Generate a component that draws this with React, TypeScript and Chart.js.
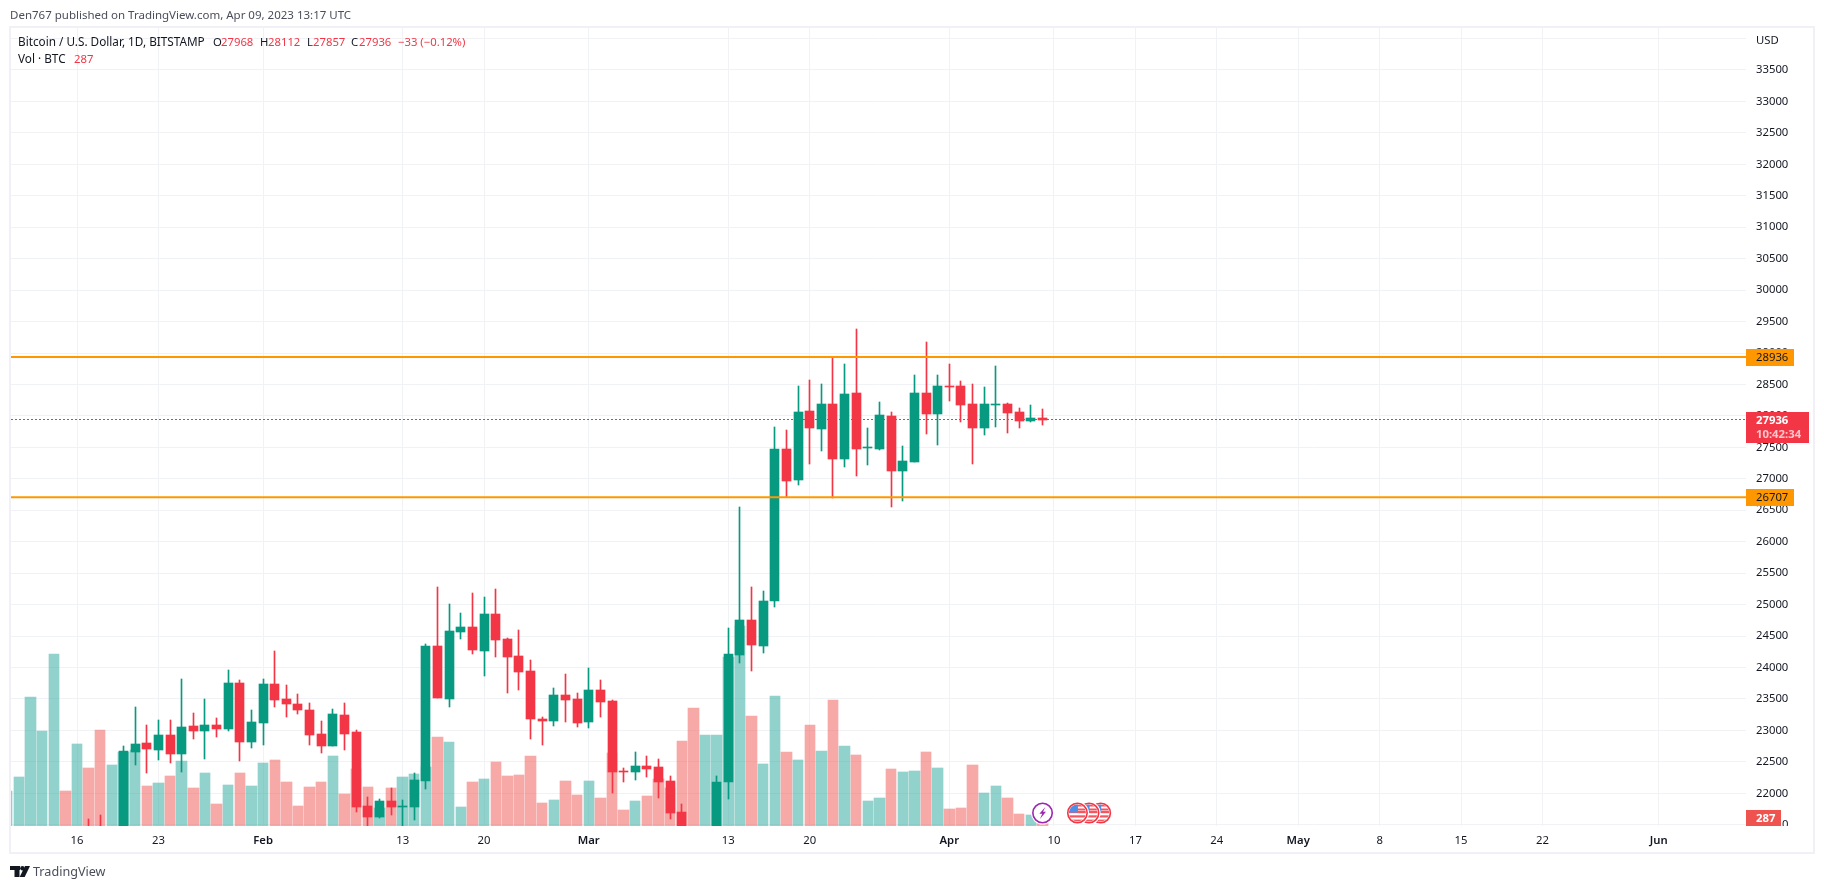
import React, { useEffect, useRef } from "react";
import { Chart, registerables } from "chart.js";

Chart.register(...registerables);

const dates = [
  "Jan 10","Jan 11","Jan 12","Jan 13","Jan 14","Jan 15","Jan 16","Jan 17","Jan 18","Jan 19","Jan 20","Jan 21","Jan 22","Jan 23","Jan 24","Jan 25","Jan 26","Jan 27","Jan 28","Jan 29","Jan 30","Jan 31",
  "Feb 1","Feb 2","Feb 3","Feb 4","Feb 5","Feb 6","Feb 7","Feb 8","Feb 9","Feb 10","Feb 11","Feb 12","Feb 13","Feb 14","Feb 15","Feb 16","Feb 17","Feb 18","Feb 19","Feb 20","Feb 21","Feb 22","Feb 23","Feb 24","Feb 25","Feb 26","Feb 27","Feb 28",
  "Mar 1","Mar 2","Mar 3","Mar 4","Mar 5","Mar 6","Mar 7","Mar 8","Mar 9","Mar 10","Mar 11","Mar 12","Mar 13","Mar 14","Mar 15","Mar 16","Mar 17","Mar 18","Mar 19","Mar 20","Mar 21","Mar 22","Mar 23","Mar 24","Mar 25","Mar 26","Mar 27","Mar 28","Mar 29","Mar 30","Mar 31",
  "Apr 1","Apr 2","Apr 3","Apr 4","Apr 5","Apr 6","Apr 7","Apr 8","Apr 9",
];

const open = [
  17190,17440,17940,18850,19930,20950,20870,21180,21130,20670,21080,22656,22799,22688,22926,22624,23070,22990,23085,23022,23753,22815,
  23117,23737,23499,23419,23324,22942,22752,23244,22974,21798,21623,21877,21787,21782,22195,24342,23499,24564,24644,24262,24850,24453,24183,23944,23181,23149,23562,23499,
  23133,23642,23467,22354,22338,22434,22418,22195,21702,20360,20180,20600,22179,24198,24755,24342,25057,27473,26980,28077,27791,28188,27314,28363,27494,27473,27998,27123,27266,28363,28029,
  28475,28475,28188,27807,28172,28188,28061,27918,27968,
];
const high = [
  17500,17990,19100,19950,21100,21050,21450,21591,21654,21180,22752,23372,23085,23165,23165,23817,23276,23499,23197,23960,23801,23324,
  23817,24262,23721,23578,23435,23149,23340,23435,23006,21941,21909,22084,21893,22322,24373,25280,25009,24866,25184,25121,25248,24469,24596,24119,23213,23674,23896,23594,
  23992,23801,23483,22402,22656,22593,22545,22275,21829,20370,20700,22275,24628,26551,25280,25216,27823,27775,28475,28570,28506,28936,28824,29381,27807,28220,28061,27521,28649,29174,28649,
  28824,28554,28506,28459,28793,28204,28125,28172,28112,
];
const low = [
  17150,17320,17900,18700,19900,20600,20650,20880,20400,20660,20880,22449,22322,22529,22481,22338,22863,22545,22895,22990,22513,22720,
  22767,23372,23213,23260,22767,22640,22752,22688,21702,21460,21607,21655,21350,21575,22068,23515,23372,24453,24214,23865,24167,23594,23642,22863,22767,23070,23133,23054,
  23038,23213,22004,22179,22211,22259,21925,21591,19600,19560,19800,20440,21909,24071,23944,24230,24962,26710,26900,27234,27441,26694,27187,27044,27218,27457,26551,26646,27266,27711,27536,
  28236,27902,27234,27695,27823,27727,27807,27902,27857,
];
const close = [
  17440,17940,18850,19930,20950,20870,21180,21130,20670,21080,22672,22783,22704,22926,22624,23054,22990,23085,23022,23753,22815,23133,
  23737,23483,23419,23324,22926,22752,23260,22942,21782,21623,21877,21782,21798,22211,24342,23515,24580,24644,24278,24850,24437,24167,23928,23181,23149,23562,23483,23117,
  23642,23451,22338,22343,22434,22386,22179,21686,20360,20180,20600,22179,24214,24755,24357,25057,27473,26964,28061,27807,28188,27314,28347,27473,27505,28013,27123,27282,28363,28029,28475,
  28459,28172,27807,28188,28188,28045,27918,27966,27936,
];
const volume = [
  3780,5292,13932,10260,18576,3780,8856,6264,10368,6588,7992,8208,4320,4644,5400,7020,4104,5724,2376,4428,5724,4320,
  6804,7128,4752,2160,4212,4752,7560,3456,6156,4212,1944,4104,5292,5616,6372,9612,9072,2052,4752,5076,6912,5400,5508,7560,2484,2808,4860,3348,
  4860,3024,7884,1728,2700,3240,5076,4104,9180,12744,9828,9828,18252,21600,11880,6696,14040,7992,7128,10908,8100,13608,8640,7668,2700,3024,6156,5832,5940,7992,6264,
  1836,1944,6588,3564,4320,3024,1296,1188,287,
];

const tickDays = [6, 13, 22, 34, 41, 50, 62, 69, 81, 90, 97, 104, 111, 118, 125, 132, 142];
const tickLabels = ["16", "23", "Feb", "13", "20", "Mar", "13", "20", "Apr", "10", "17", "24", "May", "8", "15", "22", "Jun"];
const priceTicks = [21500,22000,22500,23000,23500,24000,24500,25000,25500,26000,26500,27000,27500,28000,28500,29000,29500,30000,30500,31000,31500,32000,32500,33000,33500,34000];
const levels = [28936, 26707];
const lastPrice = 27936;
const countdown = "10:42:34";
const lastVolume = 287;
const dividendDay = 89;
const flagDays = [94, 93, 92];

const GREEN = "#089981";
const RED = "#F23645";
const VOL_GREEN = "rgba(38,166,154,0.5)";
const VOL_RED = "rgba(239,83,80,0.5)";
const FONT = '"Noto Sans", sans-serif';
const TEXT = "#131722";

const isUp = (i: number) => close[i] >= open[i];

const snapPlugin = {
  id: "snap",
  afterDatasetsUpdate(chart: any) {
    chart.data.datasets.forEach((ds: any, idx: number) => {
      const meta = chart.getDatasetMeta(idx);
      if (ds.role === "volume") {
        meta.data.forEach((el: any) => {
          const l = Math.round(el.x - 5.2);
          const r = Math.round(el.x + 5.2);
          el.x = (l + r) / 2;
          el.width = r - l;
          el.y = Math.round(el.y);
          el.base = Math.round(el.base);
        });
      } else if (ds.role === "wick" || ds.role === "body") {
        meta.data.forEach((el: any) => {
          el.x = Math.floor(el.x) + 0.5;
          const a = Math.round(Math.min(el.y, el.base));
          let b = Math.round(Math.max(el.y, el.base));
          if (b <= a) b = a + 1;
          el.y = a;
          el.base = b;
        });
      } else if (ds.role === "dotted") {
        meta.data.forEach((el: any) => {
          el.y = Math.floor(el.y) + 0.5;
        });
      }
    });
  },
};

const framePlugin = {
  id: "frame",
  beforeDraw(chart: any) {
    const c = chart.ctx;
    c.save();
    c.fillStyle = "#ffffff";
    c.fillRect(0, 0, 1824, 889);
    c.fillStyle = "#f0f0f6";
    c.fillRect(9, 26, 1806, 2);
    c.fillRect(9, 852, 1806, 2);
    c.fillRect(9, 26, 2, 828);
    c.fillRect(1813, 26, 2, 828);
    c.restore();
  },
  afterDraw(chart: any) {
    const c = chart.ctx;
    const y = chart.scales.y;
    const x = chart.scales.x;
    c.save();
    c.textBaseline = "middle";
    c.textAlign = "left";

    // header
    c.font = `11.5px ${FONT}`;
    c.fillStyle = "#4a4e5a";
    c.fillText("Den767 published on TradingView.com, Apr 09, 2023 13:17 UTC", 10, 16);

    // legend
    const txt = (s: string, px: number, py: number, col: string) => {
      c.fillStyle = col;
      c.fillText(s, px, py);
    };
    c.font = `11.75px ${FONT}`;
    txt("Bitcoin / U.S. Dollar, 1D, BITSTAMP", 18, 42.5, TEXT);
    txt("Vol \u00b7 BTC", 18, 60, TEXT);
    c.font = `11.3px ${FONT}`;
    txt("O", 213, 42.5, TEXT);
    txt("27968", 221, 42.5, RED);
    txt("H", 260, 42.5, TEXT);
    txt("28112", 268, 42.5, RED);
    txt("L", 307, 42.5, TEXT);
    txt("27857", 313, 42.5, RED);
    txt("C", 351, 42.5, TEXT);
    txt("27936", 359, 42.5, RED);
    txt("\u221233 (\u22120.12%)", 398, 42.5, RED);
    txt(String(lastVolume), 74, 60, RED);

    // price axis unit and volume axis zero
    c.fillStyle = TEXT;
    c.fillText("USD", 1756, 41);
    c.save();
    c.beginPath();
    c.rect(1746, 800, 60, 26);
    c.clip();
    c.fillText("0", 1782, 825);
    c.restore();

    // level tags
    levels.forEach((v) => {
      const py = Math.round(y.getPixelForValue(v));
      c.fillStyle = "#FF9800";
      c.fillRect(1746, py - 8, 48, 17);
      c.fillStyle = TEXT;
      c.font = `11.3px ${FONT}`;
      c.fillText(String(v), 1756, py + 0.5);
    });

    // last price tag
    const lp = Math.round(y.getPixelForValue(lastPrice));
    c.fillStyle = RED;
    c.fillRect(1746, lp - 8, 63, 31);
    c.fillStyle = "#ffffff";
    c.font = `bold 11.3px ${FONT}`;
    c.fillText(String(lastPrice), 1756, lp + 1);
    c.fillStyle = "rgba(255,255,255,0.72)";
    c.font = `bold 11.3px ${FONT}`;
    c.fillText(countdown, 1756, lp + 15);

    // volume tag
    c.fillStyle = "#EF5350";
    c.fillRect(1746, 810, 35, 16);
    c.fillStyle = "#ffffff";
    c.font = `bold 11.3px ${FONT}`;
    c.fillText(String(lastVolume), 1756, 818.5);

    // event markers
    const ey = 813;
    flagDays.forEach((d) => {
      const ex = x.getPixelForValue(d) + 0.2;
      c.save();
      c.beginPath();
      c.arc(ex, ey, 11.5, 0, Math.PI * 2);
      c.fillStyle = "#ffffff";
      c.fill();
      c.beginPath();
      c.arc(ex, ey, 8.5, 0, Math.PI * 2);
      c.clip();
      c.fillStyle = "#ffffff";
      c.fillRect(ex - 10, ey - 10, 20, 20);
      c.fillStyle = "#F6575F";
      for (let k = 0; k < 3; k++) c.fillRect(ex - 10, ey - 2 + k * 4.3 - 4.3 + 4.3, 20, 2.2);
      c.fillRect(ex - 2, ey - 8.5, 12, 2);
      c.fillRect(ex - 2, ey - 4.5, 12, 2);
      c.fillStyle = "#4C8FE6";
      c.fillRect(ex - 9, ey - 9, 9.5, 8.5);
      c.restore();
      c.beginPath();
      c.arc(ex, ey, 9.7, 0, Math.PI * 2);
      c.strokeStyle = RED;
      c.lineWidth = 1.6;
      c.stroke();
    });
    const dx = x.getPixelForValue(dividendDay) + 0.2;
    c.beginPath();
    c.arc(dx, ey, 11.5, 0, Math.PI * 2);
    c.fillStyle = "#ffffff";
    c.fill();
    c.beginPath();
    c.arc(dx, ey, 9.7, 0, Math.PI * 2);
    c.strokeStyle = "#9C27B0";
    c.lineWidth = 1.6;
    c.stroke();
    c.beginPath();
    c.moveTo(dx + 2.8, ey - 6);
    c.lineTo(dx - 3.2, ey + 0.8);
    c.lineTo(dx - 0.3, ey + 0.8);
    c.lineTo(dx - 2.6, ey + 6);
    c.lineTo(dx + 3.4, ey - 1.2);
    c.lineTo(dx + 0.5, ey - 1.2);
    c.closePath();
    c.fillStyle = "#9C27B0";
    c.fill();

    // TradingView logo
    c.fillStyle = TEXT;
    c.fillRect(10, 866, 10, 4);
    c.fillRect(14.5, 866, 5, 11);
    c.beginPath();
    c.arc(22.4, 868.2, 2.2, 0, Math.PI * 2);
    c.fill();
    c.beginPath();
    c.moveTo(25, 866);
    c.lineTo(30, 866);
    c.lineTo(24.7, 877);
    c.lineTo(19.7, 877);
    c.closePath();
    c.fill();
    c.fillStyle = "#4a4e5a";
    c.font = `12.6px ${FONT}`;
    c.fillText("TradingView", 33, 872);
    c.restore();
  },
};

export default function App() {
  const ref = useRef<HTMLCanvasElement | null>(null);
  useEffect(() => {
    if (!ref.current) return;
    const idx = dates.map((_, i) => i);
    const xMin = 0.325;
    const xMax = 149.5;
    const chart = new Chart(ref.current, {
      type: "bar",
      data: {
        datasets: [
          {
            type: "line",
            role: "level",
            label: "Resistance",
            data: [{ x: xMin, y: levels[0] }, { x: xMax, y: levels[0] }],
            borderColor: "#FF9800",
            borderWidth: 2,
            pointRadius: 0,
            yAxisID: "y",
            order: 0,
          },
          {
            type: "line",
            role: "level",
            label: "Support",
            data: [{ x: xMin, y: levels[1] }, { x: xMax, y: levels[1] }],
            borderColor: "#FF9800",
            borderWidth: 2,
            pointRadius: 0,
            yAxisID: "y",
            order: 0,
          },
          {
            role: "body",
            label: "Open/Close",
            data: idx.map((i) => ({ x: i, y: [open[i], close[i]] })),
            backgroundColor: idx.map((i) => (isUp(i) ? GREEN : RED)),
            barThickness: 9,
            grouped: false,
            yAxisID: "y",
            order: 1,
          },
          {
            role: "wick",
            label: "High/Low",
            data: idx.map((i) => ({ x: i, y: [low[i], high[i]] })),
            backgroundColor: idx.map((i) => (isUp(i) ? GREEN : RED)),
            barThickness: 1,
            grouped: false,
            yAxisID: "y",
            order: 2,
          },
          {
            type: "line",
            role: "dotted",
            label: "Last price",
            data: [{ x: xMin, y: lastPrice }, { x: xMax, y: lastPrice }],
            borderColor: RED,
            borderWidth: 1,
            borderDash: [2, 2],
            pointRadius: 0,
            yAxisID: "y",
            order: 3,
          },
          {
            role: "volume",
            label: "Vol",
            data: idx.map((i) => ({ x: i, y: volume[i] })),
            backgroundColor: idx.map((i) => (isUp(i) ? VOL_GREEN : VOL_RED)),
            barThickness: 10,
            grouped: false,
            yAxisID: "yv",
            order: 4,
          },
        ],
      } as any,
      options: {
        animation: false,
        responsive: false,
        devicePixelRatio: 1,
        layout: { padding: { left: 11, top: 27, right: 0, bottom: 0 } },
        plugins: { legend: { display: false }, tooltip: { enabled: false }, title: { display: false } },
        scales: {
          x: {
            type: "linear",
            min: xMin,
            max: xMax,
            offset: false,
            bounds: "data",
            afterBuildTicks: (s: any) => {
              s.ticks = tickDays.map((v) => ({ value: v }));
            },
            afterFit: (s: any) => {
              s.height = 63;
            },
            grid: { color: "#f1f2f6", drawTicks: false, offset: false },
            border: { display: false },
            ticks: {
              autoSkip: false,
              maxRotation: 0,
              padding: 8,
              color: TEXT,
              font: (ctx: any) => ({
                family: FONT,
                size: 11.3,
                weight: /^[A-Z]/.test(ctx.tick?.label ?? "") ? "600" : "400",
              }),
              callback: (_v: any, i: number) => tickLabels[i],
            },
          },
          y: {
            type: "linear",
            position: "right",
            min: 21480,
            max: 34183,
            bounds: "data",
            afterBuildTicks: (s: any) => {
              s.ticks = priceTicks.map((v) => ({ value: v }));
            },
            afterFit: (s: any) => {
              s.width = 78;
            },
            grid: { color: "#f1f2f6", drawTicks: false },
            border: { display: false },
            ticks: {
              autoSkip: false,
              padding: 10,
              color: TEXT,
              font: { family: FONT, size: 11.3 },
              callback: (v: any) => (v === 34000 || v === 21500 ? "" : String(v)),
            },
          },
          yv: {
            type: "linear",
            display: false,
            min: 0,
            max: 86292,
          },
        },
      } as any,
      plugins: [snapPlugin, framePlugin],
    });
    return () => chart.destroy();
  }, []);
  return (
    <div style={{ position: "fixed", left: 0, top: 0, width: 1824, height: 889, overflow: "hidden", background: "#fff" }}>
      <canvas ref={ref} width={1824} height={889} style={{ display: "block" }} />
    </div>
  );
}
